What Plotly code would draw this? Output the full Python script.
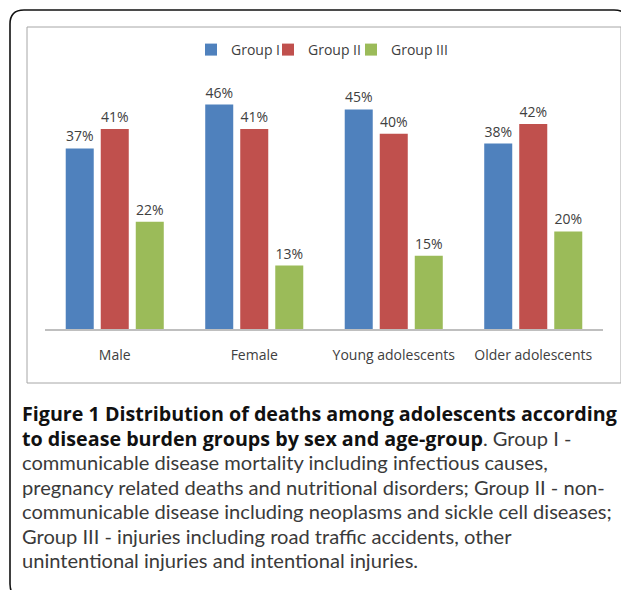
import plotly.graph_objects as go

# ---- data ----
categories = ["Male", "Female", "Young adolescents", "Older adolescents"]
series_names = ["Group I", "Group II", "Group III"]
group_i = [37, 46, 45, 38]
group_ii = [41, 41, 40, 42]
group_iii = [22, 13, 15, 20]
series_values = [group_i, group_ii, group_iii]
colors = ["#4F81BD", "#C0504D", "#9BBB59"]

BOLD = '<span style="font-family:\'Open Sans\';font-weight:bold;font-size:19.7px;color:#111111">'
caption_lines = [
    BOLD + "Figure 1 Distribution of deaths among adolescents according</span>",
    BOLD + "to disease burden groups by sex and age-group</span>. Group I -",
    "communicable disease mortality including infectious causes,",
    "pregnancy related deaths and nutritional disorders; Group II - non-",
    "communicable disease including neoplasms and sickle cell diseases;",
    "Group III - injuries including road traffic accidents, other",
    "unintentional injuries and intentional injuries.",
]

# ---- layout geometry (pixels, in reference-page coordinates) ----
OFF = 8                      # page body margin of the html page
W, H = 629, 590
PLOT_L, PLOT_R, PLOT_T, PLOT_B = 45, 603, 85, 329   # plot area in page coords
L = PLOT_L - OFF
T = PLOT_T - OFF
R = W - (PLOT_R - OFF)
B = H - (PLOT_B - OFF)
PW = PLOT_R - PLOT_L
PH = PLOT_B - PLOT_T


def px(x):
    return (x - PLOT_L) / PW


def py(y):
    return (PLOT_B - y) / PH


legend_ids = ["legend", "legend2", "legend3"]
legend_square_left = [212, 289, 372]

fig = go.Figure()
for name, vals, col, lg in zip(series_names, series_values, colors, legend_ids):
    fig.add_trace(go.Bar(
        name=name, x=categories, y=vals,
        marker=dict(color=col, line=dict(width=0)),
        text=[f"{v}%" for v in vals], textposition="outside",
        textfont=dict(family="Open Sans", size=14, color="#404040"),
        cliponaxis=False, legend=lg,
    ))

shapes = []
# inner chart frame
shapes.append(dict(type="rect", xref="paper", yref="paper",
                   x0=px(27), x1=px(621), y0=py(27), y1=py(383),
                   line=dict(color="#A6A6A6", width=1), fillcolor="rgba(0,0,0,0)", layer="below"))
# outer rounded frame
x0, y0, x1, y1, r = 10, 10, 628, 598, 14
pts = (f"M {px(x0 + r)},{py(y0)} L {px(x1 - r)},{py(y0)} Q {px(x1)},{py(y0)} {px(x1)},{py(y0 + r)} "
       f"L {px(x1)},{py(y1 - r)} Q {px(x1)},{py(y1)} {px(x1 - r)},{py(y1)} "
       f"L {px(x0 + r)},{py(y1)} Q {px(x0)},{py(y1)} {px(x0)},{py(y1 - r)} "
       f"L {px(x0)},{py(y0 + r)} Q {px(x0)},{py(y0)} {px(x0 + r)},{py(y0)} Z")
shapes.append(dict(type="path", xref="paper", yref="paper", path=pts,
                   line=dict(color="#111111", width=1.6), layer="below"))

annotations = []
line_ys = [413, 438, 462, 487, 511, 536, 560]
for txt, ly in zip(caption_lines, line_ys):
    annotations.append(dict(xref="paper", yref="paper", x=px(20), y=py(ly),
                            xanchor="left", yanchor="middle", showarrow=False,
                            text=txt, align="left",
                            font=dict(family="Lato", size=20.1, color="#3A3A3A")))

legend_common = dict(orientation="h", yanchor="middle", y=py(50), xanchor="left",
                     font=dict(family="Open Sans", size=14, color="#404040"),
                     bgcolor="rgba(0,0,0,0)", borderwidth=0, itemwidth=30)
legends = {}
for lg, sl in zip(legend_ids, legend_square_left):
    legends[lg] = dict(legend_common, x=px(sl - 7 - 14))

fig.update_layout(
    width=W, height=H,
    margin=dict(l=L, r=R, t=T, b=B, pad=0),
    paper_bgcolor="white", plot_bgcolor="white",
    barmode="group", bargap=0.247, bargroupgap=0.2,
    showlegend=True,
    xaxis=dict(showline=True, linecolor="#BFBFBF", linewidth=1.5, showgrid=False,
               ticks="", ticklabelstandoff=12,
               tickfont=dict(family="Open Sans", size=14, color="#404040")),
    yaxis=dict(range=[0, 50], visible=False, showgrid=False),
    shapes=shapes, annotations=annotations,
    **legends,
)

fig.write_html("out.html")
